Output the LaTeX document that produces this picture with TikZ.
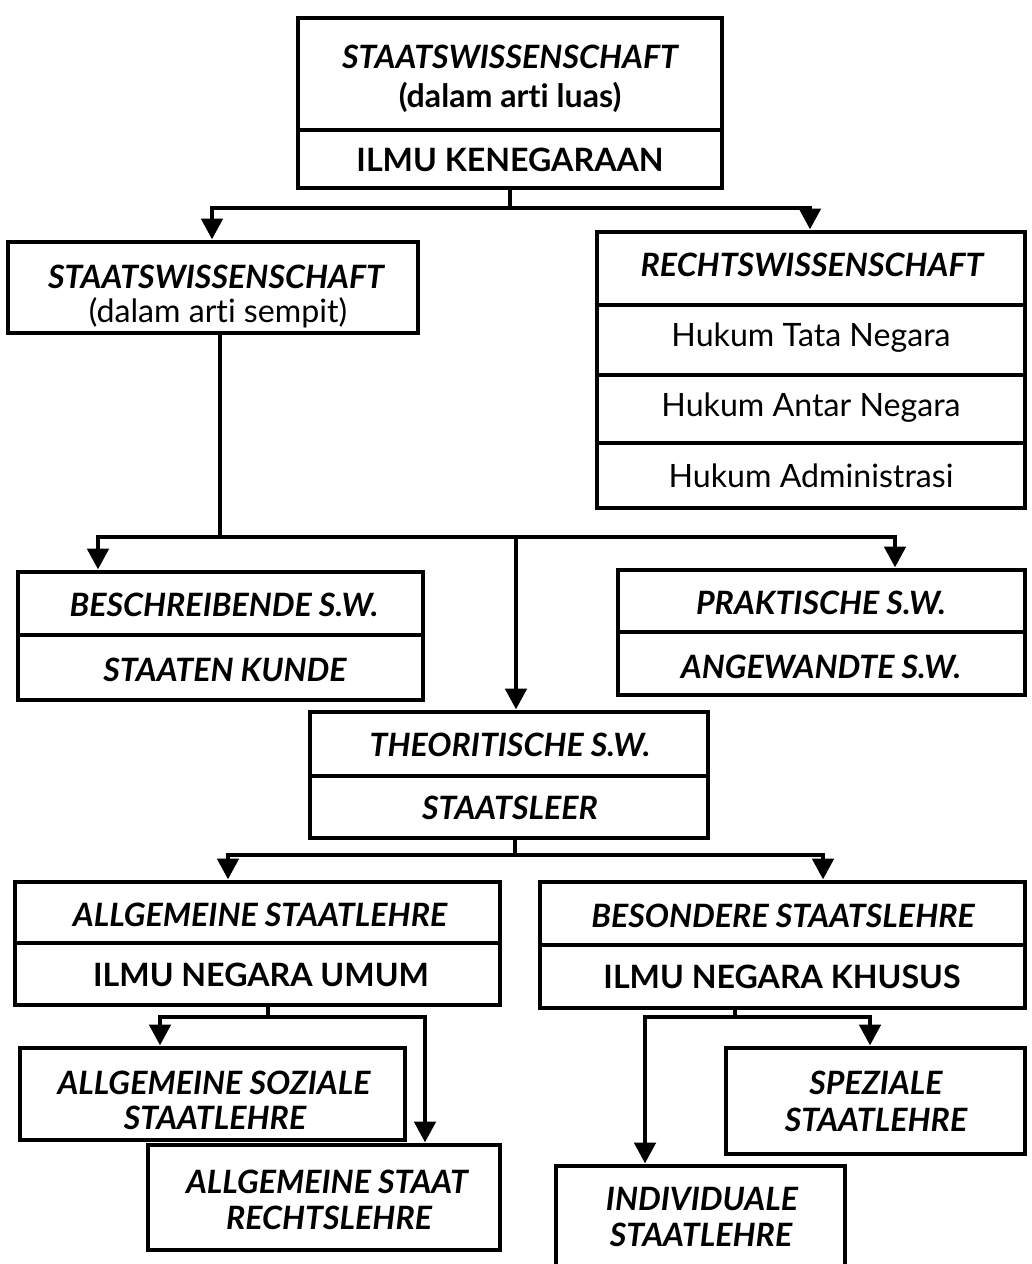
\documentclass[tikz,border=0pt]{standalone}
\usepackage{fontspec}
\setmainfont{Lato}[Ligatures=NoCommon]
\usetikzlibrary{fit,arrows.meta}
\begin{document}
\begin{tikzpicture}[x=0.02cm,y=-0.02cm,
  box/.style={draw, line width=2.8pt, line join=miter, inner sep=0pt},
  divl/.style={line width=2.8pt},
  bi/.style={font=\fontsize{18.3}{22}\selectfont\bfseries\itshape, inner sep=0pt},
  bu/.style={font=\fontsize{18.3}{22}\selectfont\bfseries, inner sep=0pt},
  rg/.style={font=\fontsize{18.3}{22}\selectfont, inner sep=0pt},
  conn/.style={line width=2.8pt, line join=miter},
  tip/.style={-{Triangle[width=0.42cm,length=0.42cm]}},
  bitip/.style={{Triangle[width=0.42cm,length=0.42cm]}-{Triangle[width=0.42cm,length=0.42cm]}}
]
\fill[white] (0,0) rectangle (1031,1264);
\useasboundingbox (0,0) rectangle (1031,1264);

% ---------- boxes ----------
\node[box, fit={(298,18)(722,188)}] (b1) {};
\draw[divl] (b1.west |- 0,130) -- (b1.east |- 0,130);
\node[bi] (t1a) at (510,57) {STAATSWISSENSCHAFT};
\node[bu] (t1b) at (510,97) {(dalam arti luas)};
\node[bu] (t1c) at (510,160) {ILMU KENEGARAAN};

\node[box, fit={(8,242)(418,333)}] (b2) {};
\node[bi] (t2a) at (216,277) {STAATSWISSENSCHAFT};
\node[rg] (t2b) at (218,313) {(dalam arti sempit)};

\node[box, fit={(597,232)(1025,508)}] (b3) {};
\draw[divl] (b3.west |- 0,305) -- (b3.east |- 0,305);
\draw[divl] (b3.west |- 0,375) -- (b3.east |- 0,375);
\draw[divl] (b3.west |- 0,443) -- (b3.east |- 0,443);
\node[bi] (t3a) at (812,265) {RECHTSWISSENSCHAFT};
\node[rg] (t3b) at (811,338) {Hukum Tata Negara};
\node[rg] (t3c) at (811,408) {Hukum Antar Negara};
\node[rg] (t3d) at (811,476) {Hukum Administrasi};

\node[box, fit={(18,572)(423,700)}] (b4) {};
\draw[divl] (b4.west |- 0,635) -- (b4.east |- 0,635);
\node[bi] (t4a) at (224,605) {BESCHREIBENDE S.W.};
\node[bi] (t4b) at (225,670) {STAATEN KUNDE};

\node[box, fit={(618,570)(1025,695)}] (b5) {};
\draw[divl] (b5.west |- 0,632) -- (b5.east |- 0,632);
\node[bi] (t5a) at (821,603) {PRAKTISCHE S.W.};
\node[bi] (t5b) at (821,667) {ANGEWANDTE S.W.};

\node[box, fit={(310,712)(708,838)}] (b6) {};
\draw[divl] (b6.west |- 0,776) -- (b6.east |- 0,776);
\node[bi] (t6a) at (510,745) {THEORITISCHE S.W.};
\node[bi] (t6b) at (510,808) {STAATSLEER};

\node[box, fit={(15,882)(500,1005)}] (b7) {};
\draw[divl] (b7.west |- 0,943) -- (b7.east |- 0,943);
\node[bi] (t7a) at (260,915) {ALLGEMEINE STAATLEHRE};
\node[bu] (t7b) at (261,975) {ILMU NEGARA UMUM};

\node[box, fit={(540,882)(1025,1008)}] (b8) {};
\draw[divl] (b8.west |- 0,945) -- (b8.east |- 0,945);
\node[bi] (t8a) at (783,916) {BESONDERE STAATSLEHRE};
\node[bu] (t8b) at (782,977) {ILMU NEGARA KHUSUS};

\node[box, fit={(20,1048)(405,1140)}] (b9) {};
\node[bi] (t9a) at (214,1083) {ALLGEMEINE SOZIALE};
\node[bi] (t9b) at (215,1118) {STAATLEHRE};

\node[box, fit={(148,1145)(500,1250)}] (b10) {};
\node[bi] (t10a) at (327,1182) {ALLGEMEINE STAAT};
\node[bi] (t10b) at (329,1218) {RECHTSLEHRE};

\node[box, fit={(726,1048)(1025,1154)}] (b11) {};
\node[bi] (t11a) at (876,1083) {SPEZIALE};
\node[bi] (t11b) at (876,1120) {STAATLEHRE};

\node[box, fit={(556,1166)(845,1290)}] (b12) {};
\node[bi] (t12a) at (702,1199) {INDIVIDUALE};
\node[bi] (t12b) at (701,1235) {STAATLEHRE};

% ---------- connectors ----------
\coordinate (s1) at (510,208);
\coordinate (c1L) at (212,208);
\coordinate (c1R) at (810,208);
\draw[conn] (s1 |- b1.south) -- (s1);
\draw[conn,bitip] (c1L |- b2.north) -- (c1L) -- (c1R) -- (c1R |- b3.north);

\coordinate (s2) at (220,537);
\coordinate (c2L) at (98,537);
\coordinate (c2R) at (895,537);
\coordinate (c2M) at (516,537);
\draw[conn] (s2 |- b2.south) -- (s2);
\draw[conn,bitip] (c2L |- b4.north) -- (c2L) -- (c2R) -- (c2R |- b5.north);
\draw[conn,tip] (c2M) -- (c2M |- b6.north);

\coordinate (s3) at (515,855);
\coordinate (c3L) at (228,855);
\coordinate (c3R) at (823,855);
\draw[conn] (s3 |- b6.south) -- (s3);
\draw[conn,bitip] (c3L |- b7.north) -- (c3L) -- (c3R) -- (c3R |- b8.north);

\coordinate (s4) at (268,1017);
\coordinate (c4L) at (160,1017);
\coordinate (c4R) at (425,1017);
\draw[conn] (s4 |- b7.south) -- (s4);
\draw[conn,bitip] (c4L |- b9.north) -- (c4L) -- (c4R) -- (c4R |- b10.north);

\coordinate (s5) at (735,1017);
\coordinate (c5L) at (645,1017);
\coordinate (c5R) at (870,1017);
\draw[conn] (s5 |- b8.south) -- (s5);
\draw[conn,bitip] (c5L |- b12.north) -- (c5L) -- (c5R) -- (c5R |- b11.north);
\end{tikzpicture}
\end{document}
